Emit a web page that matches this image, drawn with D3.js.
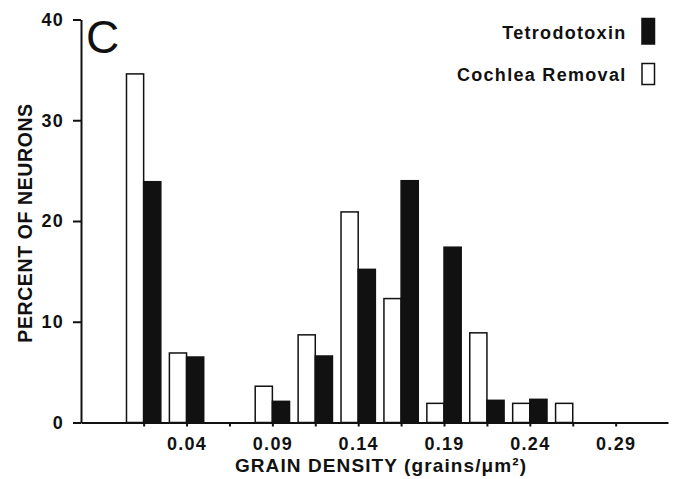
<!DOCTYPE html>
<html lang="en">
<head>
    <meta charset="UTF-8">
    <title>Grain density histogram</title>
    <script src="https://d3js.org/d3.v7.min.js"></script>
    <style>
        body { margin: 0; background: #fff; }
        text {
            font-family: "Liberation Sans", Arial, sans-serif;
            font-weight: bold;
            fill: #111;
            letter-spacing: 1.3px;
        }
        .axis path, .axis line { stroke: #111; stroke-width: 2px; }
        .axis text { font-size: 18px; }
        .bar { stroke: #111; stroke-width: 1.5px; }
    </style>
</head>
<body>
    <svg width="678" height="479"></svg>

    <script>
        // Bin centers (grains/um^2) and percent of neurons per bin
        const bins = [0.015, 0.04, 0.065, 0.09, 0.115, 0.14, 0.165, 0.19, 0.215, 0.24, 0.265];
        const cochlea = [34.6, 6.9, 0, 3.6, 8.7, 20.9, 12.3, 1.9, 8.9, 1.9, 1.9];
        const ttx = [23.9, 6.5, 0, 2.1, 6.6, 15.2, 24.0, 17.4, 2.2, 2.3, 0];

        const xTicks = [0.015, 0.04, 0.065, 0.09, 0.115, 0.14, 0.165, 0.19, 0.215, 0.24, 0.265, 0.29];
        const xLabels = [0.04, 0.09, 0.14, 0.19, 0.24, 0.29];
        const yTicks = [0, 10, 20, 30, 40];

        const legendNames = ["Tetrodotoxin", "Cochlea Removal"];
        const legendFills = ["#111", "#fff"];

        const svg = d3.select("svg");

        const x = d3.scaleLinear().domain([-0.0215, 0.3205]).range([81, 668]);
        const y = d3.scaleLinear().domain([0, 40]).range([422.5, 19.5]);
        const barW = 0.01; // width of one bar in data units

        // bars: open = cochlea removal (left), filled = tetrodotoxin (right)
        const rows = bins.map((b, i) => ({ b, c: cochlea[i], t: ttx[i] }));

        svg.selectAll(".bar.open")
            .data(rows.filter(d => d.c > 0))
            .enter().append("rect")
            .attr("class", "bar open")
            .attr("x", d => x(d.b - barW))
            .attr("width", d => x(d.b) - x(d.b - barW))
            .attr("y", d => y(d.c))
            .attr("height", d => y(0) - y(d.c))
            .attr("fill", "#fff");

        svg.selectAll(".bar.filled")
            .data(rows.filter(d => d.t > 0))
            .enter().append("rect")
            .attr("class", "bar filled")
            .attr("x", d => x(d.b))
            .attr("width", d => x(d.b + barW) - x(d.b))
            .attr("y", d => y(d.t))
            .attr("height", d => y(0) - y(d.t))
            .attr("fill", "#111");

        // axes
        svg.append("g")
            .attr("class", "axis")
            .attr("transform", `translate(0,${y(0)})`)
            .call(d3.axisBottom(x)
                .tickValues(xTicks)
                .tickSize(4)
                .tickSizeOuter(0)
                .tickPadding(11)
                .tickFormat(d => xLabels.some(v => Math.abs(v - d) < 1e-9) ? d3.format(".2f")(d) : ""));

        svg.append("g")
            .attr("class", "axis")
            .attr("transform", `translate(${x.range()[0]},0)`)
            .call(d3.axisLeft(y)
                .tickValues(yTicks)
                .tickSize(8)
                .tickSizeOuter(0)
                .tickPadding(9));

        // axis titles
        svg.append("text")
            .attr("x", 381)
            .attr("y", 471.5)
            .attr("text-anchor", "middle")
            .style("font-size", "19px")
            .style("letter-spacing", "1.1px")
            .text("GRAIN DENSITY (grains/\u03bcm\u00b2)");

        svg.append("text")
            .attr("transform", "translate(31.5,223) rotate(-90)")
            .attr("text-anchor", "middle")
            .style("font-size", "19.5px")
            .style("letter-spacing", "0.6px")
            .text("PERCENT OF NEURONS");

        // panel letter
        svg.append("text")
            .attr("x", 86)
            .attr("y", 53)
            .style("font-size", "46px")
            .style("font-weight", "normal")
            .style("letter-spacing", "0px")
            .text("C");

        // legend
        const leg = svg.selectAll(".legend")
            .data(legendNames)
            .enter().append("g")
            .attr("class", "legend")
            .attr("transform", (d, i) => `translate(0,${i * 42})`);

        leg.append("text")
            .attr("x", 626.5)
            .attr("y", 39)
            .attr("text-anchor", "end")
            .style("font-size", "18px")
            .text(d => d);

        leg.append("rect")
            .attr("x", 642)
            .attr("y", (d, i) => i === 0 ? 18.5 : 21.5)
            .attr("width", 12.5)
            .attr("height", (d, i) => i === 0 ? 25.5 : 21)
            .attr("fill", (d, i) => legendFills[i])
            .attr("stroke", "#111")
            .attr("stroke-width", 1.5);
    </script>
</body>
</html>
